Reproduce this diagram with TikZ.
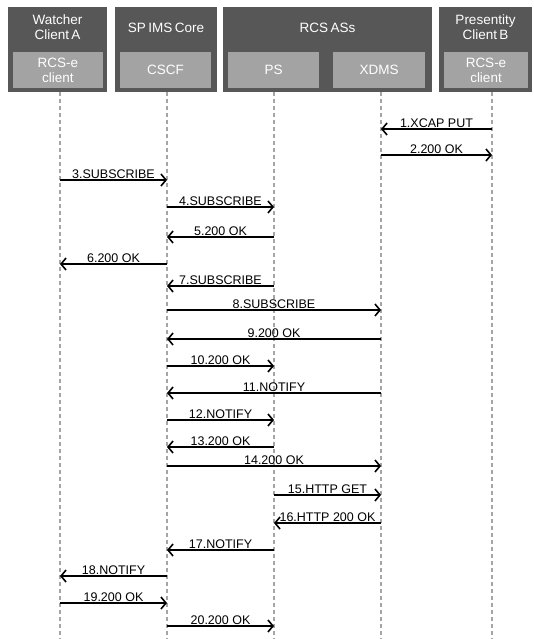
\documentclass[tikz,border=0pt]{standalone}
\usepackage{fontspec}
\setmainfont{Liberation Sans}
\usepackage{tikz}
\usetikzlibrary{arrows.meta, calc}
\definecolor{hdrdark}{RGB}{87,87,87}
\definecolor{hdrlight}{RGB}{163,163,163}
\definecolor{lifegray}{RGB}{165,165,165}
\newcommand{\hdrfont}{\fontsize{13.5}{15}\selectfont}
\newcommand{\tightspace}{\spaceskip=2.4pt\relax}
\tikzset{
  hdrbox/.style={draw=none, fill=hdrdark, inner sep=0pt, anchor=center},
  subbox/.style={draw=none, fill=hdrlight, inner sep=0pt, minimum height=36pt,
    text=white, align=center, font=\hdrfont},
  hdrtext/.style={text=white, align=center, inner sep=0pt, font=\hdrfont\tightspace}
}
\tikzset{
  lifeline/.style={draw=lifegray, line width=1.2pt, dash pattern=on 4pt off 3pt},
  msg/.style={line width=1.6pt, -{Straight Barb[length=5pt, width=12pt]}},
  msglabel/.style={above, inner sep=0.5pt, text depth=0pt, font=\fontsize{12.5}{14}\selectfont}
}

\begin{document}
\begin{tikzpicture}[x=1pt, y=-1pt]
      \useasboundingbox (0,0) rectangle (533,639);
      % header blocks
      \node[hdrbox, minimum width=99pt, minimum height=85pt] (watcher) at (57.5,49.5) {};
      \node[hdrbox, minimum width=102pt, minimum height=85pt] (imscore) at (166,49.5) {};
      \node[hdrbox, minimum width=209pt, minimum height=85pt] (rcsas) at (327.5,49.5) {};
      \node[hdrbox, minimum width=93pt, minimum height=85pt] (presentity) at (485.5,49.5) {};
      \node[hdrtext] (watchertitle) at (57.5,27.5) {Watcher\\Client A};
      \node[hdrtext] (imstitle) at (166,28) {SP IMS Core};
      \node[hdrtext] (rcstitle) at (327.5,28) {RCS ASs};
      \node[hdrtext] (presentitytitle) at (485.5,27.5) {Presentity\\Client B};
      % entities
      \node[subbox, minimum width=90pt] (clientA) at (58,70) {RCS-e\\client};
      \node[subbox, minimum width=91pt] (cscf) at (165.5,70) {CSCF};
      \node[subbox, minimum width=91pt] (ps) at (273.5,70) {PS};
      \node[subbox, minimum width=92pt] (xdms) at (379,70) {XDMS};
      \node[subbox, minimum width=84pt] (clientB) at (486,70) {RCS-e\\client};
      % lifelines
      \foreach \n/\x in {lA/60, lC/167, lP/274, lX/381, lB/492} {
        \coordinate (\n) at (\x,92);
        \coordinate (\n end) at (\x,639);
        \draw[lifeline] (\n) -- (\n end);
      }
      % message flow
      \foreach \a/\b/\y/\t in {
          lB/lX/129/1.XCAP PUT, lX/lB/155/2.200 OK, lA/lC/180/3.SUBSCRIBE,
          lC/lP/207/4.SUBSCRIBE, lP/lC/237/5.200 OK, lC/lA/264/6.200 OK,
          lP/lC/286/7.SUBSCRIBE, lC/lX/310/8.SUBSCRIBE, lX/lC/339/9.200 OK,
          lC/lP/366/10.200 OK, lX/lC/393/11.NOTIFY, lC/lP/420/12.NOTIFY,
          lP/lC/447/13.200 OK, lC/lX/466/14.200 OK, lP/lX/495/15.HTTP GET,
          lX/lP/523/16.HTTP 200 OK, lP/lC/550/17.NOTIFY, lC/lA/576/18.NOTIFY,
          lA/lC/603/19.200 OK, lC/lP/626/20.200 OK} {
        \draw[msg] (\a |- 0,\y) -- node[msglabel] {\t} (\b |- 0,\y);
      }
    \end{tikzpicture}
\end{document}
